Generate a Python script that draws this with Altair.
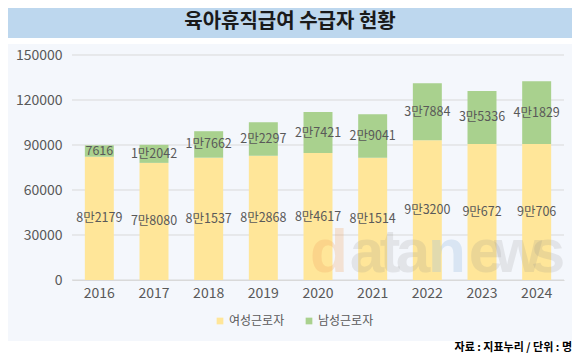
import altair as alt
import pandas as pd

years = ["2016", "2017", "2018", "2019", "2020", "2021", "2022", "2023", "2024"]
female = [82179, 78080, 81537, 82868, 84617, 81514, 93200, 90672, 90706]
male = [7616, 12042, 17662, 22297, 27421, 29041, 37884, 35336, 41829]
female_labels = ["8만2179", "7만8080", "8만1537", "8만2868", "8만4617", "8만1514", "9만3200", "9만672", "9만706"]
male_labels = ["7616", "1만2042", "1만7662", "2만2297", "2만7421", "2만9041", "3만7884", "3만5336", "4만1829"]
series = ["여성근로자", "남성근로자"]
colors = ["#FFE699", "#A9D18E"]
y_ticks = [0, 30000, 60000, 90000, 120000, 150000]
title_text = "육아휴직급여 수급자 현황"
source_text = "자료 : 지표누리 / 단위 : 명"

# watermark letters (decoration)
wm_letters = ["d", "a", "t", "a", "n", "e", "w", "s"]
wm_colors = ["#F2A35E", "#8C8C8C", "#8C8C8C", "#8C8C8C", "#9DBFE0", "#8C8C8C", "#8C8C8C", "#8C8C8C"]
wm_opac = [0.25, 0.17, 0.17, 0.17, 0.3, 0.17, 0.17, 0.17]
wm_px = [257, 295, 318, 341, 375, 414, 446, 476]

rows = []
for i, yr in enumerate(years):
    rows.append(dict(year=yr, series=series[0], value=female[i], label=female_labels[i], order=0))
    rows.append(dict(year=yr, series=series[1], value=male[i], label=male_labels[i], order=1))
df = pd.DataFrame(rows)
grid_df = pd.DataFrame({"tick": y_ticks})
wm_df = pd.DataFrame({"ch": wm_letters, "c": wm_colors, "o": wm_opac, "px": wm_px})

FONT = "Noto Sans CJK KR"
W, H = 492, 225

dummy = pd.DataFrame({"a": [0]})

panel = alt.Chart(dummy).mark_rect(color="#F4F7FC").encode(
    x=alt.value(-64), x2=alt.value(W + 8), y=alt.value(-11), y2=alt.value(286)
)
band = alt.Chart(dummy).mark_rect(color="#BDD7EE").encode(
    x=alt.value(-64), x2=alt.value(W + 8), y=alt.value(-47), y2=alt.value(-17)
)
title = alt.Chart(dummy).mark_text(
    text=title_text, font=FONT, fontSize=20, fontWeight="bold", color="#1a1a1a",
    align="center", baseline="middle"
).encode(x=alt.value(218), y=alt.value(-33))
source = alt.Chart(dummy).mark_text(
    text=source_text, font=FONT, fontSize=11, fontWeight="bold", color="#000000",
    align="right", baseline="middle"
).encode(x=alt.value(W + 8), y=alt.value(293))

y_scale = alt.Scale(domain=[0, 150000], nice=False)
y_axis = alt.Axis(values=y_ticks, title=None, ticks=False, domain=False, grid=False,
                  labelFontSize=14, labelColor="#595959",
                  labelPadding=10, format="d", labelFont=FONT, zindex=1)

grid = alt.Chart(grid_df).mark_rule(color="#D9D9D9", strokeWidth=1).encode(
    y=alt.Y("tick:Q", scale=y_scale, axis=y_axis)
)

watermark = alt.Chart(wm_df).mark_text(
    font="Liberation Sans", fontSize=62, fontWeight="bold", align="center", baseline="alphabetic"
).encode(
    x=alt.X("px:Q", scale=None),
    y=alt.value(217),
    text="ch:N",
    color=alt.Color("c:N", scale=None),
    opacity=alt.Opacity("o:Q", scale=None),
)

x_enc = alt.X(
    "year:N", sort=years,
    scale=alt.Scale(paddingInner=0.47, paddingOuter=0.235),
    axis=alt.Axis(title=None, labelAngle=0, ticks=False, domain=True, domainColor="#D9D9D9",
                  labelFontSize=14, labelColor="#595959", labelPadding=6, grid=False,
                  labelFont=FONT, zindex=1),
)

bars = alt.Chart(df).mark_bar().encode(
    x=x_enc,
    y=alt.Y("value:Q", stack="zero", scale=y_scale, axis=y_axis),
    color=alt.Color("series:N", scale=alt.Scale(domain=series, range=colors),
                    legend=alt.Legend(title=None, orient="none", direction="horizontal",
                                      legendX=142, legendY=260, symbolType="square",
                                      symbolSize=45, symbolStrokeWidth=0, labelFontSize=12,
                                      labelColor="#595959", labelFont=FONT, columnPadding=18,
                                      symbolOffset=0, labelOffset=3)),
    order=alt.Order("order:Q"),
)

labels = alt.Chart(df).transform_stack(
    stack="value", groupby=["year"], sort=[alt.SortField("order")], as_=["v0", "v1"]
).transform_calculate(
    mid="(datum.v0 + datum.v1) / 2"
).mark_text(font=FONT, fontSize=12.5, color="#595959", align="center", baseline="middle").encode(
    x=alt.X("year:N", sort=years),
    y=alt.Y("mid:Q", scale=y_scale, axis=y_axis),
    text="label:N",
)

chart = alt.layer(panel, band, title, grid, bars, watermark, labels, source).properties(
    width=W, height=H,
    autosize=alt.AutoSizeParams(type="none"),
    padding={"left": 64, "top": 47, "right": 8, "bottom": 75},
    background="#FFFFFF",
).configure_view(stroke=None)

chart.save("out.html", embed_options={"renderer": "svg", "actions": False})
